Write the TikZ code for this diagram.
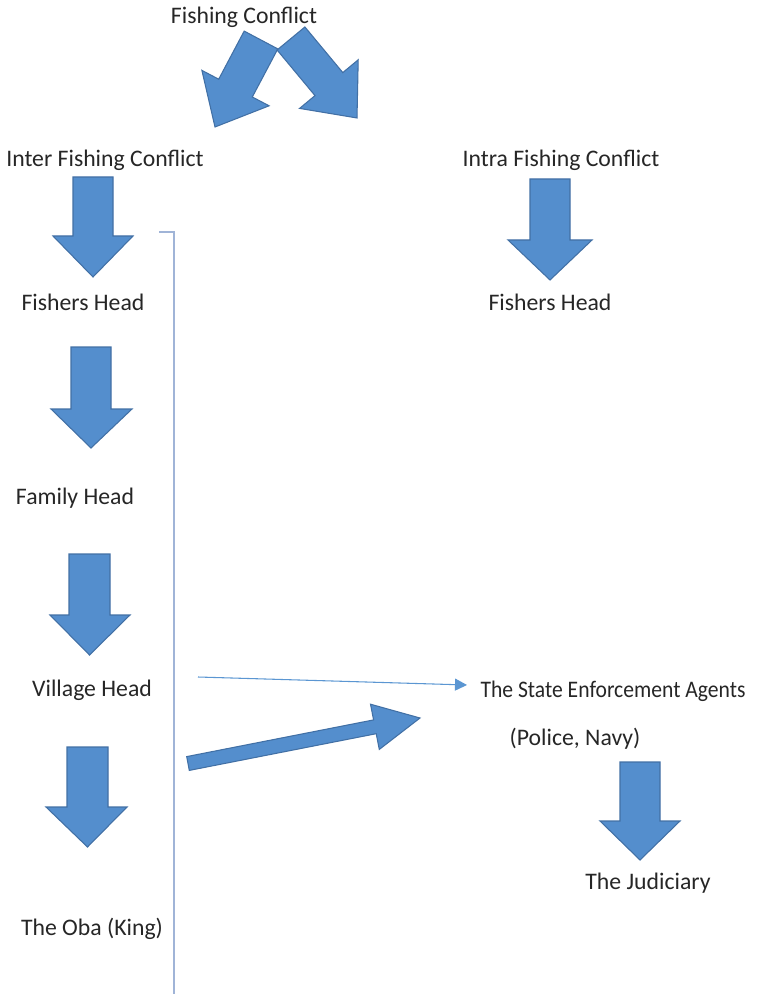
\documentclass[tikz,border=0pt]{standalone}
\usepackage{fontspec}
\setmainfont{Carlito}
\usetikzlibrary{arrows.meta}

\definecolor{blockfill}{RGB}{84,142,205}
\definecolor{blockedge}{RGB}{66,112,165}
\definecolor{bracketcol}{RGB}{160,180,215}
\definecolor{linkcol}{RGB}{91,150,210}

\tikzset{
  lbl/.style={anchor=base, inner sep=0pt, font=\fontsize{17.8}{21}\selectfont, text=black!85},
  blockarrow/.style={fill=blockfill, draw=blockedge, line width=0.8pt, line join=miter},
  bracketline/.style={draw=bracketcol, line width=1.3pt},
  thinlink/.style={draw=linkcol, line width=0.8pt, -{Triangle[length=9pt,width=9pt]}},
}

% downward block arrow: shaft x-left, shaft x-right, top, head base, head x-left, head x-right, tip y
\newcommand\blkdown[7]{%
  \draw[blockarrow] (#1,#3) -- (#2,#3) -- (#2,#4) -- (#6,#4) -- ({(#1+#2)/2},#7)
    -- (#5,#4) -- (#1,#4) -- cycle;}

\begin{document}
\begin{tikzpicture}[x=0.75pt, y=-0.75pt]
\useasboundingbox (0,0) rectangle (774,994);

% labels
\node[lbl] (fc)     at (244,24)  {Fishing Conflict};
\node[lbl] (inter)  at (105,167) {Inter Fishing Conflict};
\node[lbl] (intra)  at (561,167) {Intra Fishing Conflict};
\node[lbl] (fhl)    at (83,311)  {Fishers Head};
\node[lbl] (fhr)    at (550,311) {Fishers Head};
\node[lbl] (family) at (75,504)  {Family Head};
\node[lbl] (village) at (92,696) {Village Head};
\node[lbl] (agents) at (613,697) {\scalebox{0.91}[1]{The State Enforcement Agents}};
\node[lbl] (police) at (575,745) {(Police, Navy)};
\node[lbl] (judic)  at (648,889) {The Judiciary};
\node[lbl] (oba)    at (92,935)  {The Oba (King)};

% split arrows below the title
\draw[blockarrow] (244.2,31.1) -- (277.8,48.9) -- (252.3,97) -- (269.1,105.8)
  -- (215,127) -- (201.9,70.4) -- (218.7,79.2) -- cycle;
\draw[blockarrow] (277.1,50) -- (304.9,27) -- (342.8,72.6) -- (358.2,59.8)
  -- (357,118) -- (299.6,108.4) -- (315,95.6) -- cycle;

% downward block arrows
\blkdown{73}{113}{177}{236}{53}{133}{277}
\blkdown{530}{570}{179}{240}{508}{592}{280}
\blkdown{71}{111}{347}{409}{51}{132}{448}
\blkdown{69}{110}{554}{615}{50}{130}{655}
\blkdown{67}{108}{747}{807}{46}{127}{847}
\blkdown{620}{660}{762}{821}{600}{680}{860}

% bracket along the traditional chain
\draw[bracketline] (159,232) -- (174,232) -- (174,1000);

% thin link to the state agents
\coordinate (linkstart) at (198,677);
\coordinate (linkend) at (467,685);
\draw[thinlink] (linkstart) -- (linkend);

% thick block arrow towards the state agents
\draw[blockarrow] (186.7,756.6) -- (373.6,719.9) -- (370.5,704.2) -- (420,718)
  -- (379.3,749.4) -- (376.2,733.7) -- (189.3,770.4) -- cycle;
\end{tikzpicture}
\end{document}
